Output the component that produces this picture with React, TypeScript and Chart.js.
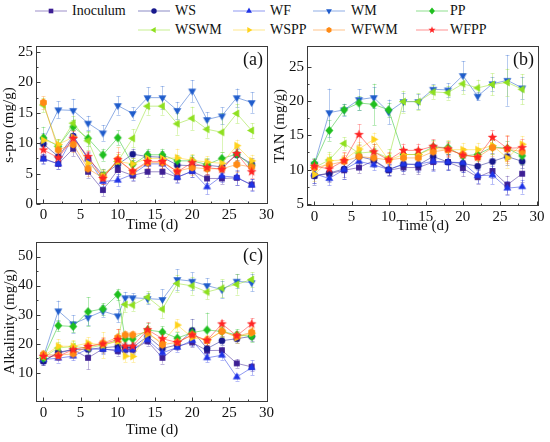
import React, { useEffect, useRef } from 'react';
import { Chart, registerables } from 'chart.js';

Chart.register(...registerables);

const FONT = "'Liberation Serif', 'Times New Roman', Times, serif";
Chart.defaults.font.family = FONT;
Chart.defaults.color = '#111';

// ---------------- data ----------------
const seriesNames = ['Inoculum', 'WS', 'WF', 'WM', 'PP', 'WSWM', 'WSPP', 'WFWM', 'WFPP'];
const daysAB = [0, 2, 4, 6, 8, 10, 12, 14, 16, 18, 20, 22, 24, 26, 28];
const daysC = [0, 2, 4, 6, 8, 10, 11, 12, 14, 16, 18, 20, 22, 24, 26, 28];
const xTickValues = [0, 5, 10, 15, 20, 25, 30];
const sproTicks = [0, 5, 10, 15, 20, 25];
const tanTicks = [5, 10, 15, 20, 25];
const alkTicks = [10, 20, 30, 40, 50];

// (a) s-pro (mg/g)
const sproInoculum = [7.5, 6.6, 9.1, 5.3, 2.3, 5.6, 4.7, 5.3, 5.3, 4.4, 5.4, 4.2, 4.2, 4.3, 3.2];
const sproWS = [9.9, 7.8, 11.2, 7.5, 4.8, 6.5, 8.2, 7.8, 7.7, 6.4, 6.3, 6.4, 6.1, 8.1, 6.6];
const sproWF = [7.4, 6.6, 11.1, 7.4, 3.7, 3.9, 4.9, 6.6, 6.6, 4.4, 5.4, 2.8, 4.6, 4.4, 3.1];
const sproWM = [10.5, 15.5, 15.4, 13.3, 11.7, 16.2, 14.9, 17.5, 17.5, 15.4, 18.6, 13.9, 14.5, 17.5, 16.7];
const sproPP = [10.9, 9.5, 12.7, 10.8, 8.1, 10.9, 6.5, 8.1, 8.1, 7.1, 7.1, 6.5, 7.5, 8.2, 6.3];
const sproWSWM = [16.3, 9.5, 13.3, 10.4, 4.8, 7.0, 10.8, 16.1, 16.1, 13.2, 14.1, 12.3, 11.8, 14.9, 12.1];
const sproWSPP = [10.5, 9.8, 11.0, 6.7, 4.6, 7.0, 6.6, 7.5, 7.5, 7.6, 7.2, 6.9, 6.7, 9.6, 7.1];
const sproWFWM = [16.7, 8.9, 9.8, 5.8, 4.3, 7.3, 5.3, 6.8, 6.8, 5.4, 6.0, 5.8, 5.8, 6.5, 6.1];
const sproWFPP = [8.9, 7.6, 10.8, 7.8, 4.2, 7.3, 5.4, 7.0, 7.0, 5.3, 6.8, 6.0, 5.7, 8.3, 5.3];

const sproErrInoculum = [0.8, 0.8, 1.2, 1.0, 1.0, 1.0, 0.9, 0.9, 0.9, 0.8, 0.9, 0.8, 0.9, 1.2, 0.9];
const sproErrWS = [0.9, 1.0, 1.0, 1.0, 0.9, 1.0, 0.9, 1.0, 1.0, 0.9, 1.0, 1.0, 0.9, 1.0, 0.9];
const sproErrWF = [0.8, 0.8, 1.0, 1.0, 0.8, 1.0, 0.9, 0.8, 0.8, 0.9, 1.0, 1.2, 0.9, 1.2, 1.0];
const sproErrWM = [1.2, 1.4, 1.9, 1.2, 1.3, 1.5, 1.0, 1.7, 1.9, 1.4, 1.8, 1.2, 1.4, 1.5, 1.7];
const sproErrPP = [1.8, 1.2, 1.2, 1.2, 1.0, 1.2, 1.0, 1.0, 1.0, 1.0, 1.0, 1.0, 1.0, 1.0, 1.0];
const sproErrWSWM = [1.2, 1.0, 1.2, 1.5, 1.0, 1.2, 1.5, 1.4, 1.4, 1.8, 1.9, 1.4, 3.2, 1.6, 1.2];
const sproErrWSPP = [1.0, 0.9, 1.2, 1.2, 1.0, 1.3, 1.0, 1.0, 1.0, 1.5, 1.0, 1.0, 1.0, 1.0, 1.0];
const sproErrWFWM = [1.0, 1.2, 1.3, 1.2, 1.0, 2.0, 1.0, 1.2, 1.2, 1.0, 1.3, 1.0, 1.0, 1.3, 1.0];
const sproErrWFPP = [1.0, 1.0, 1.2, 1.0, 0.9, 1.3, 1.0, 1.0, 1.0, 1.0, 1.0, 1.0, 1.0, 1.0, 1.0];

// (b) TAN (mg/g)
const tanInoculum = [9.1, 9.4, 9.9, 10.3, 11.3, 9.9, 10.3, 10.3, 11.1, 11.1, 10.2, 8.9, 9.8, 7.8, 9.4];
const tanWS = [9.1, 9.5, 10.1, 11.9, 11.4, 10.0, 10.8, 10.7, 11.9, 11.1, 10.9, 10.5, 11.2, 11.9, 11.2];
const tanWF = [9.4, 8.7, 10.0, 11.2, 10.7, 10.0, 10.8, 10.8, 11.2, 11.1, 11.0, 9.1, 9.2, 7.3, 7.5];
const tanWM = [10.8, 18.3, 18.7, 20.2, 20.5, 18.4, 19.9, 19.9, 21.7, 21.6, 23.7, 20.7, 22.5, 23.0, 21.9];
const tanPP = [10.9, 15.7, 18.7, 19.7, 19.5, 18.7, 12.2, 12.2, 13.3, 13.2, 12.0, 12.2, 13.3, 13.1, 12.0];
const tanWSWM = [10.3, 11.4, 13.8, 12.4, 12.6, 11.7, 19.9, 19.9, 21.3, 21.2, 22.5, 21.9, 22.4, 22.7, 21.7];
const tanWSPP = [9.3, 11.3, 11.4, 13.0, 14.4, 11.4, 12.2, 12.2, 13.1, 12.9, 12.9, 12.9, 13.5, 11.7, 13.7];
const tanWFWM = [10.3, 10.7, 11.2, 11.9, 11.7, 11.4, 11.7, 11.7, 12.6, 12.9, 12.2, 11.8, 13.2, 13.0, 12.6];
const tanWFPP = [10.5, 10.1, 11.3, 15.1, 12.6, 11.4, 12.8, 12.8, 13.4, 13.0, 12.1, 11.8, 14.7, 13.1, 13.2];

const tanErrInoculum = [1.0, 1.2, 1.0, 0.8, 0.8, 0.8, 1.0, 1.0, 1.2, 1.0, 1.2, 1.0, 1.0, 1.3, 1.2];
const tanErrWS = [1.3, 1.2, 1.4, 1.0, 1.0, 0.8, 1.0, 1.0, 1.8, 1.2, 1.3, 1.0, 1.2, 1.2, 1.0];
const tanErrWF = [1.3, 1.0, 1.3, 0.8, 0.8, 0.8, 1.0, 1.0, 1.4, 1.2, 1.4, 1.0, 1.3, 1.0, 1.0];
const tanErrWM = [0.8, 3.5, 0.9, 1.5, 1.5, 1.8, 1.3, 1.1, 0.7, 1.0, 2.1, 0.6, 1.0, 3.7, 1.6];
const tanErrPP = [0.8, 1.5, 0.8, 1.0, 3.0, 1.0, 0.8, 0.9, 1.0, 0.9, 0.9, 1.0, 1.0, 1.0, 1.2];
const tanErrWSWM = [1.0, 1.2, 0.9, 1.3, 1.2, 1.3, 1.6, 1.2, 1.0, 1.0, 1.5, 1.2, 1.6, 2.0, 2.2];
const tanErrWSPP = [1.0, 1.0, 1.0, 1.0, 1.0, 1.0, 1.0, 1.0, 1.0, 1.4, 1.0, 1.0, 1.2, 1.4, 1.2];
const tanErrWFWM = [0.8, 0.8, 0.9, 1.0, 1.0, 1.0, 1.0, 1.0, 1.2, 1.0, 1.0, 1.0, 1.2, 2.0, 1.3];
const tanErrWFPP = [1.0, 1.0, 1.2, 1.5, 1.2, 1.2, 1.0, 1.0, 1.0, 1.0, 1.0, 1.0, 1.0, 1.8, 1.2];

// (c) Alkalinity (mg/g)
const alkInoculum = [14.0, 16.8, 17.9, 15.1, 18.2, 17.4, 17.9, 17.9, 20.8, 15.1, 19.1, 20.4, 17.6, 17.7, 13.2, 12.0];
const alkWS = [14.0, 17.0, 18.0, 18.0, 18.6, 19.0, 18.7, 18.7, 22.5, 18.3, 19.6, 24.5, 18.3, 21.0, 21.7, 22.5];
const alkWF = [14.5, 15.0, 15.7, 18.2, 18.0, 17.9, 18.0, 18.0, 21.3, 16.8, 18.7, 21.1, 15.1, 16.0, 8.5, 11.7];
const alkWM = [15.5, 31.3, 26.8, 29.0, 31.2, 29.6, 35.8, 35.8, 35.5, 35.2, 42.1, 41.5, 40.0, 38.6, 41.5, 41.0];
const alkPP = [15.0, 26.2, 25.9, 31.0, 32.0, 36.9, 21.6, 21.6, 24.7, 24.0, 21.9, 23.8, 24.7, 24.2, 23.0, 22.5];
const alkWSWM = [15.3, 18.5, 19.0, 18.5, 19.5, 21.0, 33.5, 33.3, 36.0, 31.9, 40.7, 39.9, 37.8, 39.1, 40.4, 42.1];
const alkWSPP = [15.8, 19.1, 19.1, 20.2, 19.5, 20.8, 15.7, 15.6, 23.3, 20.4, 26.4, 22.1, 21.1, 24.4, 22.1, 23.6];
const alkWFWM = [16.3, 16.0, 16.5, 19.1, 20.2, 22.1, 23.0, 23.0, 24.0, 19.6, 20.5, 23.0, 21.1, 24.2, 22.5, 23.9];
const alkWFPP = [15.6, 15.7, 17.9, 19.0, 19.9, 21.4, 19.1, 19.1, 24.8, 21.7, 20.4, 23.0, 21.1, 26.8, 22.7, 26.8];

const alkErrInoculum = [1.5, 1.2, 1.3, 4.0, 1.5, 1.5, 1.2, 1.2, 1.5, 2.0, 1.3, 1.5, 1.5, 1.3, 1.5, 1.5];
const alkErrWS = [1.5, 1.5, 1.5, 1.8, 1.5, 2.0, 1.5, 1.5, 1.5, 2.0, 1.5, 4.0, 2.0, 1.5, 1.5, 1.5];
const alkErrWF = [1.5, 1.5, 1.5, 1.8, 1.5, 1.5, 1.5, 1.5, 1.5, 1.5, 1.5, 2.0, 1.5, 1.5, 1.2, 2.5];
const alkErrWM = [1.5, 3.5, 3.0, 2.5, 2.0, 2.3, 2.0, 1.5, 2.0, 3.5, 3.5, 3.0, 2.5, 3.0, 2.5, 3.0];
const alkErrPP = [1.5, 2.0, 2.0, 5.0, 2.0, 2.0, 2.0, 2.0, 2.5, 2.0, 2.0, 2.0, 6.0, 2.0, 2.0, 2.0];
const alkErrWSWM = [1.5, 2.0, 2.0, 2.5, 2.0, 2.5, 2.5, 2.0, 2.0, 3.0, 3.0, 3.0, 2.5, 3.0, 3.5, 2.5];
const alkErrWSPP = [1.5, 2.5, 2.0, 2.0, 4.5, 2.0, 2.0, 2.0, 2.0, 2.0, 2.0, 2.0, 2.0, 2.0, 2.0, 2.0];
const alkErrWFWM = [1.5, 1.5, 1.5, 1.5, 2.0, 3.0, 1.5, 1.5, 2.0, 1.5, 1.5, 2.0, 1.5, 1.5, 1.5, 1.5];
const alkErrWFPP = [1.5, 1.5, 1.5, 1.5, 2.0, 3.5, 1.5, 1.5, 2.5, 1.5, 1.5, 2.0, 1.5, 1.5, 1.5, 2.0];

// ---------------- styles ----------------
type MarkerKind = 'square' | 'circle' | 'triUp' | 'triDown' | 'diamond' | 'triLeft' | 'triRight' | 'hexagon' | 'star';
const STYLES: { color: string; kind: MarkerKind }[] = [
  { color: '#3d1f94', kind: 'square' },
  { color: '#17188c', kind: 'circle' },
  { color: '#1f33e6', kind: 'triUp' },
  { color: '#1f5ccc', kind: 'triDown' },
  { color: '#1fbf1f', kind: 'diamond' },
  { color: '#8fe01f', kind: 'triLeft' },
  { color: '#ffd21a', kind: 'triRight' },
  { color: '#ff8a14', kind: 'hexagon' },
  { color: '#ff2424', kind: 'star' },
];

function rgba(hex: string, a: number) {
  const n = parseInt(hex.slice(1), 16);
  return `rgba(${(n >> 16) & 255},${(n >> 8) & 255},${n & 255},${a})`;
}

function markerPolygon(kind: MarkerKind, s: number): number[][] | null {
  const r = s;
  const k = 0.866;
  switch (kind) {
    case 'square': { const h = r * 0.68; return [[-h, -h], [h, -h], [h, h], [-h, h]]; }
    case 'triUp': return [[0, -r], [r * k, r / 2], [-r * k, r / 2]];
    case 'triDown': return [[0, r], [r * k, -r / 2], [-r * k, -r / 2]];
    case 'triLeft': return [[-r, 0], [r / 2, -r * k], [r / 2, r * k]];
    case 'triRight': return [[r, 0], [-r / 2, -r * k], [-r / 2, r * k]];
    case 'diamond': return [[0, -r], [r * 0.85, 0], [0, r], [-r * 0.85, 0]];
    case 'hexagon': {
      const pts: number[][] = [];
      for (let i = 0; i < 6; i++) { const a = Math.PI / 6 + (i * Math.PI) / 3; pts.push([Math.cos(a) * r * 0.85, Math.sin(a) * r * 0.85]); }
      return pts;
    }
    case 'star': {
      const pts: number[][] = [];
      for (let i = 0; i < 10; i++) {
        const a = -Math.PI / 2 + (i * Math.PI) / 5;
        const rr = i % 2 === 0 ? r * 1.1 : r * 0.45;
        pts.push([Math.cos(a) * rr, Math.sin(a) * rr]);
      }
      return pts;
    }
    default: return null;
  }
}

function makeMarkerImage(kind: MarkerKind, color: string, s: number) {
  const size = Math.ceil(s * 2 + 3);
  const c = document.createElement('canvas');
  c.width = size; c.height = size;
  const ctx = c.getContext('2d')!;
  const cx = size / 2, cy = size / 2;
  ctx.fillStyle = color;
  ctx.beginPath();
  if (kind === 'circle') {
    ctx.arc(cx, cy, s * 0.78, 0, Math.PI * 2);
  } else {
    const pts = markerPolygon(kind, s)!;
    pts.forEach((p, i) => (i === 0 ? ctx.moveTo(cx + p[0], cy + p[1]) : ctx.lineTo(cx + p[0], cy + p[1])));
    ctx.closePath();
  }
  ctx.fill();
  return c;
}

// ---------------- panels ----------------
interface PanelDef {
  key: string; left: number; top: number; w: number; h: number;
  padTop: number; padRight: number; yW: number; xH: number;
  xTitlePad: number; yTitlePad: number;
  yMin: number; yMax: number; yTicks: number[]; yTitle: string; label: string;
  x: number[]; values: number[][]; errors: number[][];
}

const PANELS: PanelDef[] = [
  {
    key: 'a', left: 0, top: 34, w: 280, h: 202, padTop: 9, padRight: 12, yW: 36, xH: 32,
    xTitlePad: 2, yTitlePad: 0.5, yMin: 0, yMax: 26, yTicks: sproTicks, yTitle: 's-pro (mg/g)', label: '(a)',
    x: daysAB,
    values: [sproInoculum, sproWS, sproWF, sproWM, sproPP, sproWSWM, sproWSPP, sproWFWM, sproWFPP],
    errors: [sproErrInoculum, sproErrWS, sproErrWF, sproErrWM, sproErrPP, sproErrWSWM, sproErrWSPP, sproErrWFWM, sproErrWFPP],
  },
  {
    key: 'b', left: 270, top: 34, w: 280, h: 202, padTop: 9, padRight: 11.5, yW: 37, xH: 30,
    xTitlePad: 1, yTitlePad: 1, yMin: 4.7, yMax: 28, yTicks: tanTicks, yTitle: 'TAN (mg/g)', label: '(b)',
    x: daysAB,
    values: [tanInoculum, tanWS, tanWF, tanWM, tanPP, tanWSWM, tanWSPP, tanWFWM, tanWFPP],
    errors: [tanErrInoculum, tanErrWS, tanErrWF, tanErrWM, tanErrPP, tanErrWSWM, tanErrWSPP, tanErrWFWM, tanErrWFPP],
  },
  {
    key: 'c', left: 0, top: 230, w: 280, h: 212, padTop: 9.3, padRight: 12, yW: 36, xH: 40.3,
    xTitlePad: 3.3, yTitlePad: 1.5, yMin: 0, yMax: 55, yTicks: alkTicks, yTitle: 'Alkalinity (mg/g)', label: '(c)',
    x: daysC,
    values: [alkInoculum, alkWS, alkWF, alkWM, alkPP, alkWSWM, alkWSPP, alkWFWM, alkWFPP],
    errors: [alkErrInoculum, alkErrWS, alkErrWF, alkErrWM, alkErrPP, alkErrWSWM, alkErrWSPP, alkErrWFWM, alkErrWFPP],
  },
];

const AXIS_COLOR = '#3a3a3a';

const framePlugin = {
  id: 'panelFrame',
  beforeDatasetsDraw(chart: any) {
    const ctx = chart.ctx as CanvasRenderingContext2D;
    const ys = chart.scales.y;
    const area = chart.chartArea;
    ctx.save();
    ctx.beginPath();
    ctx.rect(area.left, area.top, area.right - area.left, area.bottom - area.top);
    ctx.clip();
    ctx.lineWidth = 1;
    chart.data.datasets.forEach((ds: any, i: number) => {
      const meta = chart.getDatasetMeta(i);
      ctx.strokeStyle = rgba(STYLES[i].color, 0.32);
      meta.data.forEach((pt: any, j: number) => {
        const e = ds.errorBars[j];
        const v = ds.data[j].y;
        const x = Math.round(pt.x) + 0.5;
        const y1 = ys.getPixelForValue(v + e);
        const y2 = ys.getPixelForValue(v - e);
        ctx.beginPath();
        ctx.moveTo(x, y1); ctx.lineTo(x, y2);
        ctx.moveTo(x - 2, Math.round(y1) + 0.5); ctx.lineTo(x + 2, Math.round(y1) + 0.5);
        ctx.moveTo(x - 2, Math.round(y2) + 0.5); ctx.lineTo(x + 2, Math.round(y2) + 0.5);
        ctx.stroke();
      });
    });
    ctx.restore();
  },
  afterDatasetsDraw(chart: any, _args: any, opts: any) {
    const ctx = chart.ctx as CanvasRenderingContext2D;
    const { left, right, top, bottom } = chart.chartArea;
    const xs = chart.scales.x;
    const ys = chart.scales.y;
    ctx.save();
    ctx.strokeStyle = AXIS_COLOR;
    ctx.lineWidth = 1;
    const L = Math.round(left) + 0.5, R = Math.round(right) - 0.5, T = Math.round(top) + 0.5, B = Math.round(bottom) - 0.5;
    ctx.strokeRect(L, T, R - L, B - T);
    ctx.beginPath();
    const xv = xs.ticks.map((t: any) => t.value);
    xv.forEach((v: number, i: number) => {
      const px = Math.round(xs.getPixelForValue(v)) + 0.5;
      ctx.moveTo(px, B); ctx.lineTo(px, B - 4);
      if (i < xv.length - 1) {
        const m = Math.round(xs.getPixelForValue((v + xv[i + 1]) / 2)) + 0.5;
        ctx.moveTo(m, B); ctx.lineTo(m, B - 2);
      }
    });
    const yv = ys.ticks.map((t: any) => t.value);
    yv.forEach((v: number, i: number) => {
      const py = Math.round(ys.getPixelForValue(v)) + 0.5;
      ctx.moveTo(L, py); ctx.lineTo(L + 4, py);
      if (i < yv.length - 1) {
        const m = Math.round(ys.getPixelForValue((v + yv[i + 1]) / 2)) + 0.5;
        ctx.moveTo(L, m); ctx.lineTo(L + 2, m);
      }
    });
    ctx.stroke();
    ctx.fillStyle = '#111';
    ctx.font = `18px ${FONT}`;
    ctx.textAlign = 'center';
    ctx.textBaseline = 'middle';
    ctx.fillText(opts.label, right - 15, top + 14);
    ctx.restore();
  },
};

function buildConfig(p: PanelDef): any {
  const tickFont = { size: 15, family: FONT };
  return {
    type: 'line',
    data: {
      datasets: STYLES.map((s, i) => ({
        label: seriesNames[i],
        data: p.x.map((x, j) => ({ x, y: p.values[i][j] })),
        errorBars: p.errors[i],
        borderColor: rgba(s.color, 0.5),
        backgroundColor: s.color,
        borderWidth: 1,
        pointStyle: makeMarkerImage(s.kind, s.color, s.kind === 'square' ? 4.3 : s.kind === 'circle' ? 4.3 : 4.6),
        pointRadius: 4,
        pointHoverRadius: 4,
        tension: 0,
        fill: false,
        order: STYLES.length - i,
      })),
    },
    options: {
      animation: false,
      responsive: false,
      events: [],
      layout: { padding: { left: 0, top: p.padTop, right: p.padRight, bottom: 0 } },
      plugins: {
        legend: { display: false },
        tooltip: { enabled: false },
        panelFrame: { label: p.label },
      },
      scales: {
        x: {
          type: 'linear',
          min: -1,
          max: 30.2,
          afterBuildTicks: (s: any) => { s.ticks = xTickValues.map((v) => ({ value: v })); },
          afterFit: (s: any) => { s.height = p.xH; },
          grid: { display: false, drawTicks: false },
          border: { display: false },
          ticks: { padding: 2, font: tickFont, color: '#111', maxRotation: 0, autoSkip: false, callback: (v: any) => String(v) },
          title: { display: true, text: 'Time (d)', font: tickFont, color: '#111', padding: { top: 0, bottom: p.xTitlePad } },
        },
        y: {
          type: 'linear',
          min: p.yMin,
          max: p.yMax,
          afterBuildTicks: (s: any) => { s.ticks = p.yTicks.map((v) => ({ value: v })); },
          afterFit: (s: any) => { s.width = p.yW; },
          grid: { display: false, drawTicks: false },
          border: { display: false },
          ticks: { padding: 3, font: tickFont, color: '#111', autoSkip: false, callback: (v: any) => String(v) },
          title: { display: true, text: p.yTitle, font: tickFont, color: '#111', padding: { top: p.yTitlePad, bottom: 0 } },
        },
      },
    },
    plugins: [framePlugin],
  };
}

function Panel({ p }: { p: PanelDef }) {
  const ref = useRef<HTMLCanvasElement>(null);
  useEffect(() => {
    if (!ref.current) return;
    const chart = new Chart(ref.current, buildConfig(p));
    return () => chart.destroy();
  }, [p]);
  return (
    <canvas
      ref={ref}
      width={p.w}
      height={p.h}
      style={{ position: 'absolute', left: p.left, top: p.top, width: p.w, height: p.h }}
    />
  );
}

// ---------------- legend ----------------
const LEGEND_SLOTS = [
  { col: 0, row: 0 }, { col: 1, row: 0 }, { col: 2, row: 0 }, { col: 3, row: 0 }, { col: 4, row: 0 },
  { col: 1, row: 1 }, { col: 2, row: 1 }, { col: 3, row: 1 }, { col: 4, row: 1 },
];
const LEGEND_LINE_X = [35, 138, 233, 313, 416];
const LEGEND_TEXT_X = [72, 175, 270, 351, 450];
const LEGEND_ROW_Y = [11, 29.5];

function LegendMarker({ i }: { i: number }) {
  const s = STYLES[i];
  const w = 32, h = 12, cx = 16, cy = 6;
  const r = 3.4;
  const poly = markerPolygon(s.kind, r);
  return (
    <svg width={w} height={h} style={{ position: 'absolute', left: 0, top: -6, overflow: 'visible' }}>
      <line x1={0} y1={cy} x2={w} y2={cy} stroke={rgba(s.color, 0.5)} strokeWidth={1} />
      {s.kind === 'circle' ? (
        <circle cx={cx} cy={cy} r={r * 0.8} fill={s.color} />
      ) : (
        <polygon points={poly!.map((p) => `${cx + p[0]},${cy + p[1]}`).join(' ')} fill={s.color} />
      )}
    </svg>
  );
}

function Legend() {
  return (
    <>
      {seriesNames.map((name, i) => {
        const slot = LEGEND_SLOTS[i];
        const y = LEGEND_ROW_Y[slot.row];
        return (
          <React.Fragment key={name}>
            <div style={{ position: 'absolute', left: LEGEND_LINE_X[slot.col], top: y, width: 32, height: 0 }}>
              <LegendMarker i={i} />
            </div>
            <div
              style={{
                position: 'absolute', left: LEGEND_TEXT_X[slot.col], top: y - 9, height: 18, lineHeight: '18px',
                fontFamily: FONT, fontSize: 14, color: '#111', whiteSpace: 'nowrap',
              }}
            >
              {name}
            </div>
          </React.Fragment>
        );
      })}
    </>
  );
}

export default function App() {
  return (
    <div style={{ position: 'absolute', left: 0, top: 0, width: 550, height: 442, background: '#fff', overflow: 'hidden' }}>
      <Legend />
      {PANELS.map((p) => (
        <Panel key={p.key} p={p} />
      ))}
    </div>
  );
}
